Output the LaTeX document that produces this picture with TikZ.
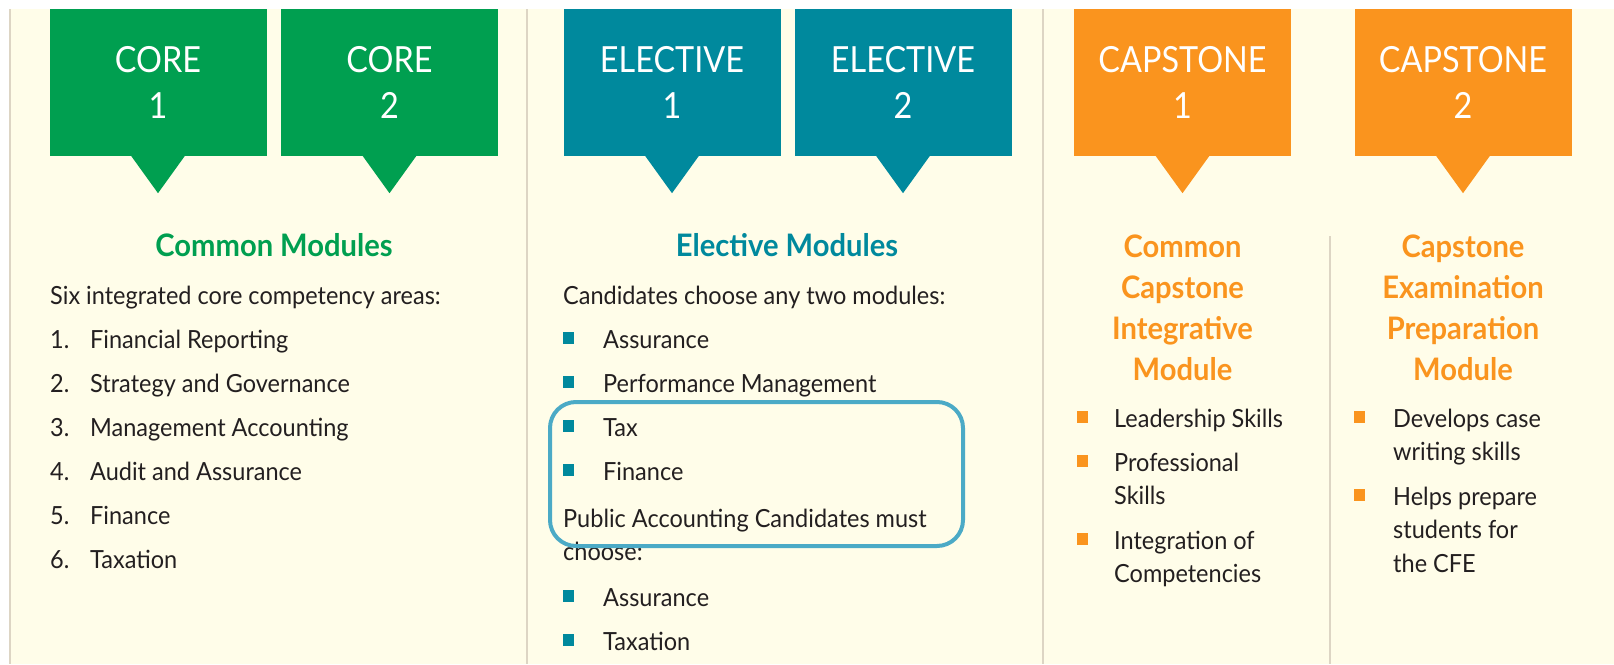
\documentclass[tikz,border=0pt]{standalone}
\usepackage{fontspec}
\setmainfont[FakeStretch=0.94]{Lato}
\newfontfamily\tabfont[FakeStretch=0.9]{Lato}
\newcommand{\stacked}[2]{\begin{tabular}[t]{@{}#1@{}}#2\end{tabular}}
\definecolor{cream}{RGB}{255,253,233}
\definecolor{rule}{RGB}{221,213,196}
\definecolor{coregreen}{RGB}{0,159,80}
\definecolor{electeal}{RGB}{0,137,157}
\definecolor{capsorange}{RGB}{250,148,30}
\definecolor{rim}{RGB}{75,170,198}
\definecolor{ink}{RGB}{35,31,32}
\begin{document}
\begin{tikzpicture}[x=1pt,y=-1pt,
	tab/.style={rectangle,fill=#1,text=white,minimum width=217pt,minimum height=147pt,inner sep=0pt,align=center,font=\tabfont\fontsize{36}{46}\selectfont},
	head/.style={anchor=base,inner sep=0pt,font=\fontsize{31}{41}\selectfont\bfseries},
	txt/.style={anchor=base west,inner sep=0pt,text=ink,font=\fontsize{25}{33.5}\selectfont},
	sq/.style={rectangle,fill=#1,minimum width=11pt,minimum height=12pt,inner sep=0pt}]
	\useasboundingbox[fill=white] (0,0) rectangle (1614,664);
	\fill[cream] (10,9) rectangle (1614,664);
	\draw[rule,line width=2pt] (10,9) -- (10,664) (527,9) -- (527,664) (1043,9) -- (1043,664) (1330,236) -- (1330,664);

	\node (core1) [tab=coregreen] at (158,82.5) {CORE\\1};
	\node (core2) [tab=coregreen] at (389.5,82.5) {CORE\\2};
	\node (elec1) [tab=electeal] at (672,82.5) {ELECTIVE\\1};
	\node (elec2) [tab=electeal] at (903,82.5) {ELECTIVE\\2};
	\node (caps1) [tab=capsorange] at (1182.5,82.5) {CAPSTONE\\1};
	\node (caps2) [tab=capsorange] at (1463,82.5) {CAPSTONE\\2};
	\foreach \n/\c in {core1/coregreen,core2/coregreen,elec1/electeal,elec2/electeal,caps1/capsorange,caps2/capsorange}
		\fill[\c] ([xshift=-27pt,yshift=0.5pt]\n.south) -- ([xshift=27pt,yshift=0.5pt]\n.south) -- ([yshift=-37pt]\n.south) -- cycle;

	\node (common) [head,text=coregreen] at (274,256) {Common Modules};
	\node (elective) [head,text=electeal] at (787,256) {Elective Modules};
	\node (integrative) [head,text=capsorange] at (1182.5,257) {\stacked{c}{Common\\Capstone\\Integrative\\Module}};
	\node (preparation) [head,text=capsorange] at (1463,257) {\stacked{c}{Capstone\\Examination\\Preparation\\Module}};

	\node (six) [txt] at (50,304) {Six integrated core competency areas:};
	\foreach \i/\t in {1/Financial Reporting,2/Strategy and Governance,3/Management Accounting,4/Audit and Assurance,5/Finance,6/Taxation} {
		\node (num\i) [txt] at (50,{304+44*\i}) {\i.};
		\node (area\i) [txt] at (90,{304+44*\i}) {\t};
	}

	\node (any) [txt] at (563,304) {Candidates choose any two modules:};
	\foreach \y/\t in {348/Assurance,392/Performance Management,436/Tax,480/Finance,606/Assurance,650/Taxation} {
		\node (eb\y) [sq=electeal] at (568.5,\y-10) {};
		\node (et\y) [txt] at (603,\y) {\t};
	}
	\node (public) [txt] at (563,527) {\stacked{l}{Public Accounting Candidates must\\choose:}};
	\draw[rim,line width=4pt,rounded corners=26pt] (550,402) rectangle (963,546);

	\foreach \y/\t in {427/Leadership Skills,471/Professional\\Skills,549/Integration of\\Competencies} {
		\node (cb\y) [sq=capsorange] at (1082.5,\y-10) {};
		\node (ct\y) [txt] at (1114,\y) {\stacked{l}{\t}};
	}
	\foreach \y/\t in {427/Develops case\\writing skills,505/Helps prepare\\students for\\the CFE} {
		\node (pb\y) [sq=capsorange] at (1359.5,\y-10) {};
		\node (pt\y) [txt] at (1393,\y) {\stacked{l}{\t}};
	}
\end{tikzpicture}
\end{document}
